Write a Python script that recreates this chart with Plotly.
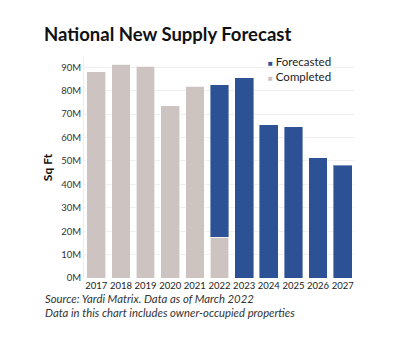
import plotly.graph_objects as go

years = ["2017", "2018", "2019", "2020", "2021", "2022", "2023", "2024", "2025", "2026", "2027"]
completed = [88.0, 91.3, 90.5, 73.5, 82.0, 17.4, 0, 0, 0, 0, 0]
forecasted = [0, 0, 0, 0, 0, 65.2, 85.5, 65.5, 64.7, 51.4, 48.2]
tick_vals = [0, 10, 20, 30, 40, 50, 60, 70, 80, 90]
tick_text = ["0M", "10M", "20M", "30M", "40M", "50M", "60M", "70M", "80M", "90M"]
legend_names = ["Forecasted", "Completed"]

C_COMP = "#cdc4c2"
C_FORE = "#2c5195"
FONT = "Lato"

fig = go.Figure()
fig.add_trace(go.Bar(x=years, y=completed, name="Completed", marker=dict(color=C_COMP, line=dict(color="rgba(255,255,255,0.6)", width=1)), showlegend=False))
fig.add_trace(go.Bar(x=years, y=forecasted, name="Forecasted", marker=dict(color=C_FORE, line=dict(color="rgba(255,255,255,0.4)", width=1)), showlegend=False))

fig.update_layout(
    width=400, height=349,
    margin=dict(l=84, r=45, t=57, b=71),
    barmode="stack", bargap=0.24,
    paper_bgcolor="white", plot_bgcolor="white",
    font=dict(family=FONT, color="#333333", size=10),
    showlegend=False,
    title=dict(text="<b>National New Supply Forecast</b>", x=0.11, xanchor="left", xref="container",
               y=1 - 35 / 349, yanchor="middle", yref="container",
               font=dict(family=FONT, size=18.5, color="#111111")),
    xaxis=dict(type="category", showgrid=False, ticks="", tickangle=0, tickfont=dict(size=9.5, color="#222222"),
               showline=False),
    yaxis=dict(range=[0, 94.4], tickvals=tick_vals, ticktext=tick_text, showgrid=True,
               gridcolor="#efefef", gridwidth=1, zeroline=False, showline=True, linecolor="#eeeeee",
               tickfont=dict(size=9.5, color="#333333"), ticks="",
               title=dict(text="<b>Sq Ft</b>", font=dict(size=12, color="#111111"), standoff=6)),
)

# legend as a single two-line text block
leg_colors = [C_FORE, C_COMP]
leg_text = "<br>".join(f"<span style='color:{c};font-size:8px'>■</span> {n}" for n, c in zip(legend_names, leg_colors))
fig.add_annotation(text=leg_text, xref="paper", yref="paper", align="left",
                   x=(267 - 84) / 271, y=(278 - 68.5) / 221, xanchor="left", yanchor="middle", showarrow=False,
                   font=dict(family=FONT, size=11.5, color="#222222"), borderpad=0)

fig.add_annotation(text="<i>Source: Yardi Matrix. Data as of March 2022</i>", xref="paper", yref="paper",
                   x=(43 - 84) / 271, y=(278 - 298) / 221, xanchor="left", yanchor="middle", showarrow=False,
                   font=dict(family=FONT, size=11.3, color="#333333"))
fig.add_annotation(text="<i>Data in this chart includes owner-occupied properties</i>", xref="paper", yref="paper",
                   x=(43 - 84) / 271, y=(278 - 312) / 221, xanchor="left", yanchor="middle", showarrow=False,
                   font=dict(family=FONT, size=11.3, color="#333333"))

fig.write_html("out.html")
